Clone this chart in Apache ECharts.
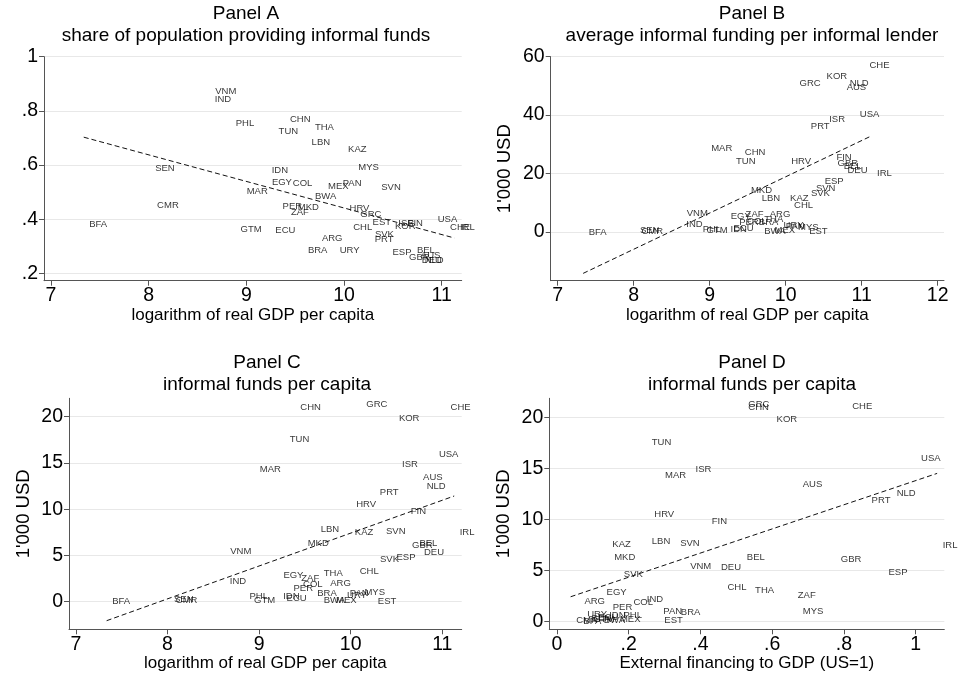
<!DOCTYPE html>
<html>
<head>
<meta charset="utf-8">
<script src="https://cdn.jsdelivr.net/npm/echarts@6/dist/echarts.min.js"></script>
<style>
  html, body { margin: 0; padding: 0; background: #fff; }
  #chart { width: 958px; height: 677px; }
</style>
</head>
<body>
<div id="chart"></div>
<script>
// country codes, same order in every array below
const countries = ['BFA','SEN','CMR','VNM','IND','PHL','GTM','MAR','IDN','EGY','ECU','TUN','PER','ZAF','CHN','COL',
  'MKD','BRA','LBN','THA','BWA','ARG','MEX','URY','PAN','KAZ','HRV','CHL','GRC','MYS','EST','SVK','PRT','SVN','ESP',
  'KOR','ISR','FIN','GBR','BEL','DEU','AUS','NLD','USA','CHE','IRL'];

// logarithm of real GDP per capita (x of panels A-C)
const lgdp = [7.335, 8.01, 8.03, 8.625, 8.62, 8.835, 8.885, 8.947, 9.203, 9.205, 9.24, 9.274, 9.315, 9.40, 9.39, 9.42,
  9.47, 9.574, 9.612, 9.646, 9.646, 9.717, 9.78, 9.90, 9.93, 9.985, 10.0, 10.038, 10.11, 10.09, 10.236, 10.26, 10.258, 10.325, 10.44,
  10.466, 10.50, 10.595, 10.61, 10.69, 10.74, 10.73, 10.77, 10.903, 11.03, 11.13];

// panel A: share of population providing informal funds
const shareLenders = [.383, .588, .450, .871, .844, .754, .364, .502, .579, .535, .358, .723, .446, .426, .770, .533,
  .443, .284, .683, .738, .483, .328, .520, .287, .533, .658, .441, .369, .418, .592, .389, .346, .327, .518, .278,
  .375, .386, .385, .260, .284, .250, .268, .250, .400, .369, .369];

// panel B: average informal funding per informal lender, 1'000 USD
const avgFunding = [0.0, 0.5, 0.3, 6.2, 2.6, 0.8, 0.6, 28.5, 1.0, 5.2, 1.1, 24.2, 3.1, 5.9, 27.1, 3.5,
  14.2, 3.1, 11.4, 4.2, 0.2, 5.9, 0.4, 2.3, 1.8, 11.4, 24.0, 9.0, 50.8, 1.7, 0.2, 13.3, 36.3, 15.0, 17.3,
  53.2, 38.5, 25.5, 23.5, 22.3, 21.1, 49.6, 50.9, 40.1, 56.9, 20.1];

// panels C and D: informal funds per capita, 1'000 USD
const fundsPerCap = [0.0, 0.3, 0.1, 5.4, 2.2, 0.55, 0.2, 14.3, 0.6, 2.8, 0.4, 17.5, 1.4, 2.5, 21.0, 1.87,
  6.3, 0.87, 7.8, 3.05, 0.1, 1.95, 0.2, 0.65, 0.95, 7.5, 10.5, 3.3, 21.3, 1.0, 0.08, 4.6, 11.85, 7.65, 4.8,
  19.8, 14.9, 9.75, 6.1, 6.3, 5.3, 13.4, 12.5, 15.95, 21.05, 7.47];

// panel D x: external financing to GDP (US=1)
const extFinance = [0.058, 0.081, 0.038, 0.356, 0.235, 0.17, 0.086, 0.286, 0.13, 0.123, 0.10, 0.249, 0.140, 0.656, 0.518, 0.198,
  0.144, 0.33, 0.249, 0.537, 0.115, 0.061, 0.16, 0.069, 0.281, 0.139, 0.256, 0.46, 0.518, 0.67, 0.284, 0.171, 0.862, 0.328, 0.909,
  0.597, 0.371, 0.416, 0.776, 0.514, 0.442, 0.67, 0.932, 1.0, 0.808, 1.06];

// fitted lines (end points)
const fitA = [[7.335, 0.703], [11.13, 0.331]];
const fitB = [[7.335, -14.2], [11.13, 32.9]];
const fitC = [[7.335, -2.05], [11.13, 11.43]];
const fitD = [[0.038, 2.41], [1.06, 14.5]];

const gdpTicks = [7, 8, 9, 10, 11];
const gdpTicksB = [7, 8, 9, 10, 11, 12];
const shareTicks = [0.2, 0.4, 0.6, 0.8, 1];
const avgTicks = [0, 20, 40, 60];
const capTicks = [0, 5, 10, 15, 20];
const extTicks = [0, 0.2, 0.4, 0.6, 0.8, 1];

const FONT = 'Liberation Sans, Arial, Helvetica, sans-serif';
const AXIS_COL = '#555';

function dotless(v) {
  let s = String(Math.round(v * 100) / 100);
  return s.replace(/^0\./, '.');
}

function makeX(idx, min, max, ticks, name, fmt) {
  return {
    gridIndex: idx, type: 'value', min: min, max: max,
    name: name, nameLocation: 'middle', nameGap: 26,
    nameTextStyle: { fontSize: 17, color: '#000', fontFamily: FONT },
    axisLine: { onZero: false, lineStyle: { color: AXIS_COL, width: 1 } },
    axisTick: { length: 5, customValues: ticks, lineStyle: { color: AXIS_COL } },
    axisLabel: { customValues: ticks, fontSize: 19.5, color: '#000', fontFamily: FONT, margin: 5,
      formatter: fmt || (v => String(v)) },
    splitLine: { show: false }
  };
}

function makeY(idx, min, max, ticks, name, fmt) {
  return {
    gridIndex: idx, type: 'value', min: min, max: max,
    name: name, nameLocation: 'middle', nameGap: 36,
    nameTextStyle: { fontSize: 18.5, color: '#000', fontFamily: FONT },
    axisLine: { onZero: false, lineStyle: { color: AXIS_COL, width: 1 } },
    axisTick: { length: 5, customValues: ticks, lineStyle: { color: AXIS_COL } },
    axisLabel: { customValues: ticks, fontSize: 19.5, color: '#000', fontFamily: FONT, margin: 6,
      formatter: fmt || (v => String(v)) },
    splitLine: { show: true, lineStyle: { color: '#e8e8e8', width: 1 } }
  };
}

function labels(idx, xs, ys) {
  return {
    type: 'scatter', xAxisIndex: idx, yAxisIndex: idx, silent: true,
    symbolSize: 1, itemStyle: { color: 'rgba(0,0,0,0)' },
    label: { show: true, position: 'right', distance: 5, fontSize: 9.5, color: '#000',
      fontFamily: FONT, formatter: p => p.data[2] },
    data: countries.map((c, i) => [xs[i], ys[i], c])
  };
}

function fitLine(idx, pts) {
  return {
    type: 'line', xAxisIndex: idx, yAxisIndex: idx, silent: true, symbol: 'none',
    lineStyle: { color: '#111', width: 1, type: [5, 3] }, data: pts
  };
}

function panelTitle(x, y, head, sub) {
  return {
    text: head + '\n' + sub, left: x, top: y, textAlign: 'center',
    textStyle: { fontSize: 19, fontWeight: 'normal', color: '#000', fontFamily: FONT, lineHeight: 22 }
  };
}

let chart = echarts.init(document.getElementById('chart'));
let option = {
  animation: false,
  backgroundColor: '#fff',
  title: [
    panelTitle(241, -2, 'Panel A', 'share of population providing informal funds'),
    panelTitle(747, -2, 'Panel B', 'average informal funding per informal lender'),
    panelTitle(262, 347, 'Panel C', 'informal funds per capita'),
    panelTitle(747, 347, 'Panel D', 'informal funds per capita')
  ],
  grid: [
    { left: 44, top: 56.7, width: 417.7, height: 224 },
    { left: 550.7, top: 56.7, width: 393.3, height: 224 },
    { left: 69, top: 398.3, width: 392.7, height: 231 },
    { left: 549.3, top: 398.3, width: 395, height: 231 }
  ],
  xAxis: [
    makeX(0, 6.928, 11.205, gdpTicks, 'logarithm of real GDP per capita'),
    makeX(1, 6.908, 12.083, gdpTicksB, 'logarithm of real GDP per capita'),
    makeX(2, 6.924, 11.212, gdpTicks, 'logarithm of real GDP per capita'),
    makeX(3, -0.0215, 1.080, extTicks, 'External financing to GDP (US=1)', dotless)
  ],
  yAxis: [
    makeY(0, 0.1734, 1.0, shareTicks, '', dotless),
    makeY(1, -16.71, 60, avgTicks, "1'000 USD"),
    makeY(2, -2.98, 21.99, capTicks, "1'000 USD"),
    makeY(3, -0.78, 21.86, capTicks, "1'000 USD")
  ],
  series: [
    fitLine(0, fitA), labels(0, lgdp, shareLenders),
    fitLine(1, fitB), labels(1, lgdp, avgFunding),
    fitLine(2, fitC), labels(2, lgdp, fundsPerCap),
    fitLine(3, fitD), labels(3, extFinance, fundsPerCap)
  ]
};
option && chart.setOption(option);
</script>
</body>
</html>
